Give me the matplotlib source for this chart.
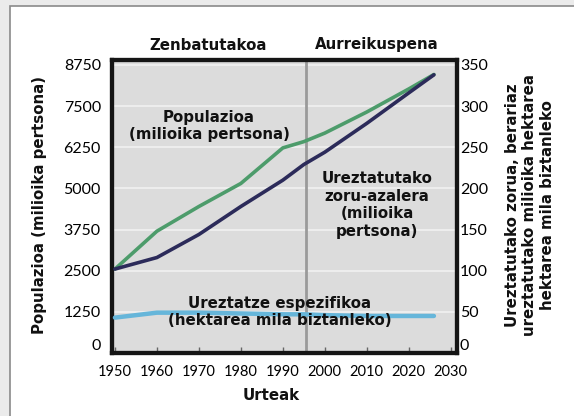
import matplotlib
matplotlib.use('Agg')
import matplotlib.pyplot as plt
from matplotlib.patches import Rectangle

# data
years = [1950, 1960, 1970, 1980, 1990, 1995, 2000, 2010, 2020, 2026]
population = [2550, 3700, 4450, 5150, 6230, 6420, 6680, 7320, 8020, 8460]  # left axis
irrigated = [102, 116, 144, 178, 210, 229, 244, 279, 316, 338]  # right axis
specific = [43, 49, 49, 48, 47, 47, 46, 45, 45, 45]  # right axis

left_ticks = [0, 1250, 2500, 3750, 5000, 6250, 7500, 8750]
right_ticks = [0, 50, 100, 150, 200, 250, 300, 350]
x_ticks = [1950, 1960, 1970, 1980, 1990, 2000, 2010, 2020, 2030]

num_font = 'Lato'

fig = plt.figure(figsize=(5.74, 4.16), dpi=100)
fig.patch.set_facecolor('#ebebeb')
# white panel with gray border
fig.patches.append(Rectangle((10/574, -0.1), 1.0, 1 - 6/416 + 0.1, transform=fig.transFigure,
                             facecolor='white', edgecolor='#8a8a8a', lw=1.2, zorder=-1))

ax = fig.add_axes([112/574, 1 - 353/416, (457-112)/574, (353-60)/416])
ax.set_facecolor('#dcdcdc')
ax.set_xlim(1949.3, 2031.5)
ax.set_ylim(0, 8900)

for y in left_ticks[1:]:
    ax.axhline(y, color='#f2f2f2', lw=1.5, alpha=0.8, zorder=1)
ax.axvline(1995.5, color='#9a9a9a', lw=2, zorder=2)

ax2 = ax.twinx()
ax2.set_ylim(0, 8900/25)

ax.plot(years, population, color='#4d9c6b', lw=2.6, solid_capstyle='round', zorder=4)
ax2.plot(years, irrigated, color='#2c2b5a', lw=2.6, solid_capstyle='round', zorder=4)
ax2.plot(years, specific, color='#66b6da', lw=3.2, solid_capstyle='round', zorder=4)

ax.set_xticks(x_ticks)
ax.set_xticklabels([str(v) for v in x_ticks], fontfamily=num_font, fontsize=10.5)
ax.set_yticks(left_ticks)
ax.set_yticklabels([str(v) for v in left_ticks], fontfamily=num_font, fontsize=11.5)
ax2.set_yticks(right_ticks)
ax2.set_yticklabels([str(v) for v in right_ticks], fontfamily=num_font, fontsize=11.5)

ax.tick_params(axis='x', direction='in', length=4, width=1, color='#666666', pad=9)
ax.tick_params(axis='y', length=0, pad=8)
ax2.tick_params(axis='y', length=0, pad=2)
ax.get_yticklabels()[0].set_va('bottom')
ax2.get_yticklabels()[0].set_va('bottom')

for a in (ax, ax2):
    for s in a.spines.values():
        s.set_linewidth(3)
        s.set_color('#151515')

bold = dict(fontweight='bold', fontsize=10.8, color='#111111', fontfamily='DejaVu Sans')

fig.text(208/574, 1 - 45/416, 'Zenbatutakoa', ha='center', va='center', **bold)
fig.text(377/574, 1 - 45/416, 'Aurreikuspena', ha='center', va='center', **bold)

fig.text(209/574, 1 - 126/416, 'Populazioa\n(milioika pertsona)', ha='center', va='center',
         linespacing=1.2, **bold)
fig.text(377/574, 1 - 205/416, 'Ureztatutako\nzoru-azalera\n(milioika\npertsona)', ha='center',
         va='center', linespacing=1.2, **bold)
fig.text(280/574, 1 - 312/416, 'Ureztatze espezifikoa\n(hektarea mila biztanleko)', ha='center',
         va='center', linespacing=1.2, zorder=5, **bold)

fig.text(271/574, 1 - 396/416, 'Urteak', ha='center', va='center', **bold)
fig.text(40/574, 1 - 205/416, 'Populazioa (milioika pertsona)', ha='center', va='center',
         rotation=90, **bold)
fig.text(530/574, 1 - 205/416,
         'Ureztatutako zorua, berariaz\nureztatutako milioika hektarea\nhektarea mila biztanleko',
         ha='center', va='center', rotation=90, linespacing=1.2, **bold)

fig.savefig('out.png', dpi=100, facecolor=fig.get_facecolor())
